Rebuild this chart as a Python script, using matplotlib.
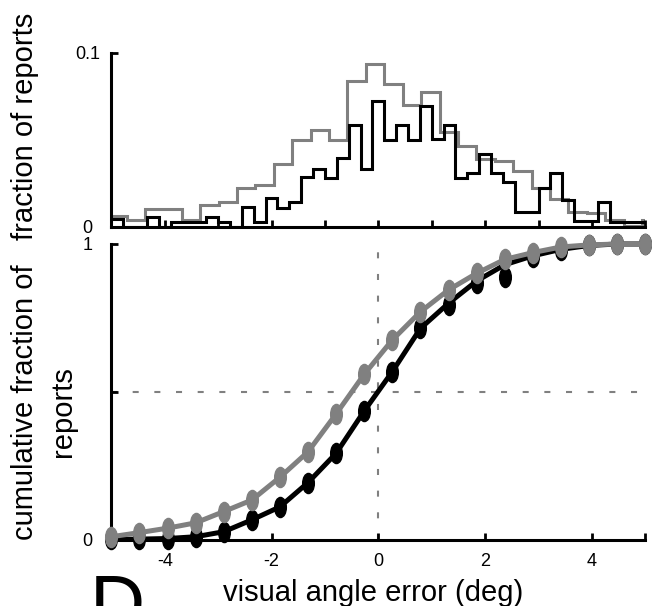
import numpy as np
import matplotlib
matplotlib.use("Agg")
import matplotlib.pyplot as plt
from matplotlib.path import Path
from matplotlib.transforms import Affine2D

plt.rcParams['font.family'] = ['Liberation Sans', 'DejaVu Sans']

# ---------------- data ----------------
# top histograms (fraction of reports)
black_hist_edges = np.linspace(-5, 5, 46)
black_hist = [0.0044, 0, 0, 0.0057, 0, 0.0029, 0.0029, 0.0029, 0.0057, 0.0029,
              0, 0.0115, 0.0029, 0.0167, 0.0108, 0.0142, 0.0285, 0.0334, 0.0278, 0.0393,
              0.0584, 0.0334, 0.0723, 0.0498, 0.0584, 0.0498, 0.0694, 0.0502, 0.0584, 0.0278,
              0.0307, 0.0416, 0.0310, 0.0259, 0.0086, 0.0086, 0.0220, 0.0307, 0.0152, 0.0031,
              0.0031, 0.0142, 0.0029, 0.0029, 0.0029]
gray_hist_edges = -5.06 + 0.3448 * np.arange(31)
gray_hist = [0.0063, 0.0039, 0.0102, 0.0102, 0.0039, 0.0125, 0.0144, 0.0220, 0.0240, 0.0360,
             0.0500, 0.0558, 0.0500, 0.0838, 0.0935, 0.0820, 0.0697, 0.0776, 0.0543, 0.0462,
             0.0390, 0.0380, 0.0320, 0.0223, 0.0157, 0.0085, 0.0080, 0.0038, 0.0004, 0.0040]

# bottom cumulative curves
cum_x = np.linspace(-5, 5, 20)
black_pts = [0.002, 0.003, 0.005, 0.011, 0.028, 0.068, 0.112, 0.194, 0.293, 0.436,
             0.569, 0.715, 0.794, 0.867, 0.889, 0.955, 0.980, 0.995, 1.0, 1.0]
black_line = [0.002, 0.003, 0.005, 0.011, 0.028, 0.068, 0.112, 0.194, 0.293, 0.436,
              0.569, 0.715, 0.800, 0.875, 0.930, 0.960, 0.982, 0.995, 1.0, 1.0]
gray_pts = [0.011, 0.025, 0.040, 0.058, 0.096, 0.135, 0.212, 0.298, 0.426, 0.560,
            0.676, 0.771, 0.845, 0.901, 0.948, 0.971, 0.990, 0.997, 1.0, 1.0]

xticks_bottom = [-5, -4, -2, 0, 2, 4, 5]
xticklabels_bottom = ['', '-4', '-2', '0', '2', '4', '']
xticks_top = [-5, -4, -3, -2, -1, 0, 1, 2, 3, 4, 5]

GRAY = '#808080'
W, H = 652, 606
fig = plt.figure(figsize=(W / 100, H / 100), dpi=100)

x_left, x_right = 111.3, 645.3
ax1 = fig.add_axes([x_left / W, 1 - 226.7 / H, (x_right - x_left) / W, (226.7 - 52.7) / H])
ax2 = fig.add_axes([x_left / W, 1 - 540 / H, (x_right - x_left) / W, (540 - 244) / H])

for ax in (ax1, ax2):
    for s in ('top', 'right'):
        ax.spines[s].set_visible(False)
    for s in ('left', 'bottom'):
        ax.spines[s].set_linewidth(2.2)
    ax.set_xlim(-5, 5)
    ax.tick_params(direction='in', length=5, width=2.0, labelsize=13)
    ax.tick_params(axis='y', pad=17)
    ax.tick_params(axis='x', pad=9)

# ---- top histogram ----
ax1.stairs(gray_hist, gray_hist_edges, baseline=None, color=GRAY, lw=2.2)
ax1.stairs(black_hist, black_hist_edges, baseline=None, color='black', lw=2.2)
ax1.set_ylim(0, 0.1)
ax1.set_yticks([0, 0.1])
ax1.set_yticklabels(['0', '0.1'], ha='center')
ax1.set_xticks(xticks_top)
ax1.set_xticklabels([])

# ---- bottom cumulative ----
ax2.axvline(0, color=GRAY, lw=1.5, ls=(0, (2.9, 7.5)), zorder=1)
ax2.axhline(0.5, color=GRAY, lw=1.5, ls=(0, (2.9, 7.5)), zorder=1)

ellipse = Path.unit_circle().transformed(Affine2D().scale(0.58, 1.0))
ax2.plot(cum_x, black_line, color='black', lw=3.6, zorder=3, clip_on=False)
ax2.plot(cum_x, black_pts, ls='none', marker=ellipse, ms=14.5, color='black', zorder=3, clip_on=False)
ax2.plot(cum_x, gray_pts, color=GRAY, lw=3.6, zorder=4, clip_on=False)
ax2.plot(cum_x, gray_pts, ls='none', marker=ellipse, ms=14.5, color=GRAY, zorder=4, clip_on=False)
ax2.set_ylim(0, 1)
ax2.set_yticks([0, 0.5, 1])
ax2.set_yticklabels(['0', '', '1'], ha='center')
ax2.set_xticks(xticks_bottom)
ax2.set_xticklabels(xticklabels_bottom)

# ---- labels ----
fig.text(25 / W, 1 - 126 / H, 'fraction of reports', rotation=90, ha='center', va='center', fontsize=21)
fig.text(25 / W, 1 - 402 / H, 'cumulative fraction of', rotation=90, ha='center', va='center', fontsize=21)
fig.text(63 / W, 1 - 412 / H, 'reports', rotation=90, ha='center', va='center', fontsize=21)
fig.text(373.5 / W, 1 - 601 / H, 'visual angle error (deg)', ha='center', va='baseline', fontsize=21)
fig.text(90 / W, 1 - 629 / H, 'D', ha='left', va='baseline', fontsize=55)

fig.savefig('out.png', dpi=100)
